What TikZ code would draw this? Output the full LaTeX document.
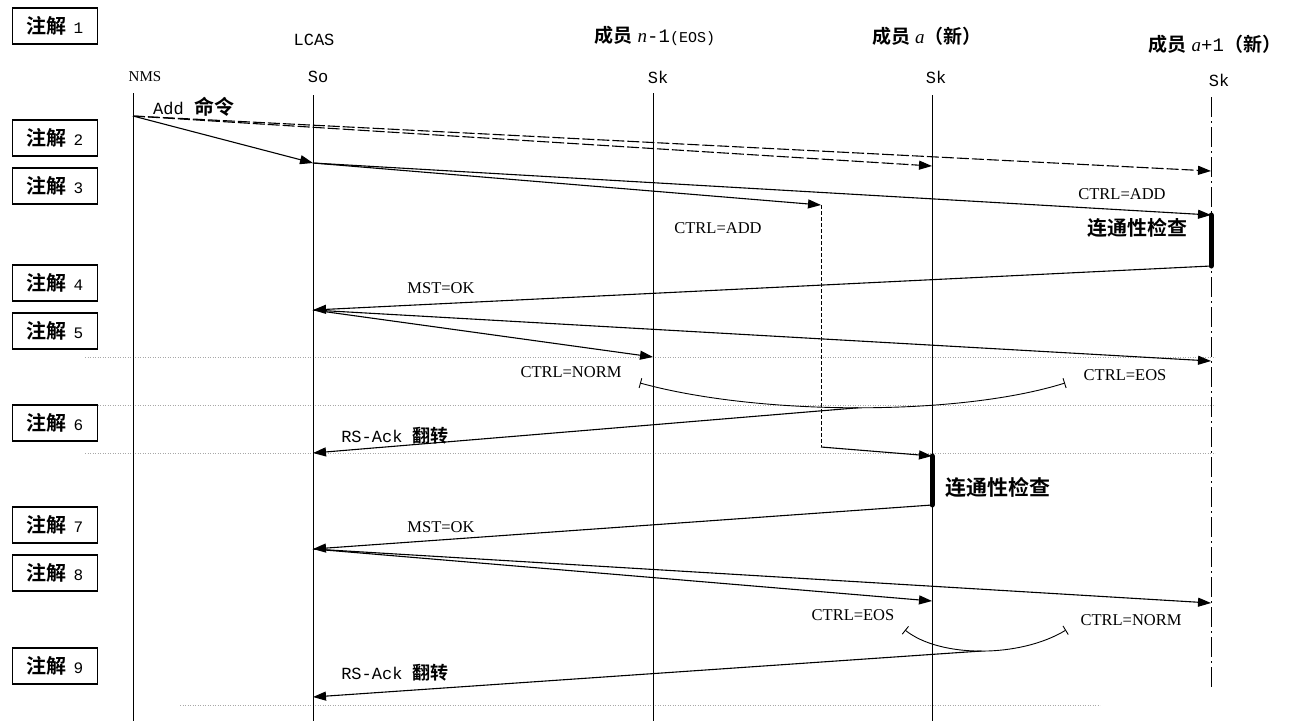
\documentclass[tikz,border=0pt]{standalone}
\usepackage{fontspec}
\setmainfont{Liberation Serif}
\setmonofont{Liberation Mono}
\newfontfamily\cjk{Noto Sans CJK SC Bold}
\usetikzlibrary{arrows.meta}
\definecolor{scanfaint}{HTML}{A8A8A8}

\tikzset{
  msg/.style={line width=1.1pt, -{Triangle[length=13pt,width=9pt]}},
  cmd/.style={msg, dash pattern=on 12pt off 3pt},
  life/.style={line width=1pt},
  newlife/.style={line width=0.9pt, dash pattern=on 20pt off 4pt on 2pt off 4pt},
  delay/.style={line width=0.9pt, dash pattern=on 4pt off 2pt},
  checkbar/.style={line width=5pt, line cap=round},
  notebox/.style={draw, line width=1.1pt, minimum width=85pt, minimum height=36pt, inner sep=0pt},
  ctrl/.style={font=\fontsize{16.5}{16.5}\selectfont, inner sep=1pt},
  mono/.style={font=\ttfamily\fontsize{17}{17}\selectfont, inner sep=1pt},
  head/.style={font=\fontsize{19}{19}\selectfont, inner sep=1pt},
  checklbl/.style={font=\cjk\fontsize{20}{20}\selectfont, inner sep=1pt},
  brace/.style={line width=0.9pt, {Bar[width=10pt]}-{Bar[width=10pt]}},
  faint/.style={scanfaint, line width=0.5pt, dotted},
}
\newcommand{\zj}[1]{{\cjk\fontsize{20}{20}\selectfont 注解}\hspace{7pt}{\ttfamily\fontsize{16}{16}\selectfont #1}}
\newcommand{\cn}[1]{{\cjk #1}}

\begin{document}
\begin{tikzpicture}[x=1pt, y=-1pt]
  \fill[white] (0,0) rectangle (1293,721);
  \useasboundingbox (0,0) rectangle (1293,721);

  % faint rules left by the scan
  \foreach \y in {357,405,453}
    \draw[faint] (85,\y) -- (1215,\y);
  \draw[faint] (180,705) -- (1100,705);

  % annotation boxes
  \foreach \i/\y in {1/26, 2/138, 3/186, 4/283, 5/331, 6/423, 7/525, 8/573, 9/666}
    \node[notebox] (note\i) at (55,\y) {\zj{\i}};

  % heads
  \node[mono] (lcas) at (314,40) {LCAS};
  \node[head] (memn) at (655,36) {\cn{成员} \textit{n}\texttt{-1}{\ttfamily\fontsize{15}{15}\selectfont(EOS)}};
  \node[head] (mema) at (927,36) {\cn{成员} \textit{a}\cn{（新）}};
  \node[head] (memb) at (1215,44) {\cn{成员} \textit{a}\texttt{+1}\cn{（新）}};
  \node[ctrl, font=\fontsize{15}{15}\selectfont] (nms) at (145,77) {NMS};
  \node[mono] (so) at (318,77) {So};
  \node[mono] (skn) at (658,77) {Sk};
  \node[mono] (ska) at (936,77) {Sk};
  \node[mono] (skb) at (1219,80) {Sk};

  % lifelines
  \coordinate (nmsT) at (133,93);  \coordinate (nmsB) at (133,721);
  \coordinate (soT) at (313,95);   \coordinate (soB) at (313,721);
  \coordinate (sknT) at (653,93);  \coordinate (sknB) at (653,721);
  \coordinate (skaT) at (932,95);  \coordinate (skaB) at (932,721);
  \coordinate (skbT) at (1211,97); \coordinate (skbB) at (1211,690);
  \draw[life] (nmsT) -- (nmsB);
  \draw[life] (soT) -- (soB);
  \draw[life] (sknT) -- (sknB);
  \draw[life] (skaT) -- (skaB);
  \draw[newlife] (skbT) -- (skbB);

  % events
  \coordinate (nms1) at (133,116);
  \coordinate (so1) at (313,163);
  \coordinate (ska1) at (932,166);
  \coordinate (skb1) at (1211,171);
  \coordinate (dl1) at (821,205);
  \coordinate (dl2) at (821,447);
  \coordinate (skb2) at (1211,215);
  \coordinate (skb3) at (1211,266);
  \coordinate (so2) at (313,310);
  \coordinate (skn2) at (653,357);
  \coordinate (skb4) at (1211,361);
  \coordinate (so3) at (313,453);
  \coordinate (ska2) at (932,456);
  \coordinate (ska3) at (932,505);
  \coordinate (so4) at (313,549);
  \coordinate (ska4) at (932,601);
  \coordinate (skb5) at (1211,603);
  \coordinate (so5) at (313,697);

  % add command
  \draw[cmd] (nms1) -- (ska1);
  \draw[cmd] (nms1) -- (skb1);
  \draw[msg] (nms1) -- (so1);
  \node[mono, anchor=west] (addcmd) at (152,107) {Add \cn{\fontsize{20}{20}\selectfont 命令}};

  % CTRL=ADD
  \draw[msg] (so1) -- (skb2);
  \draw[msg] (so1) -- (dl1);
  \draw[delay] (dl1) -- (dl2);
  \node[ctrl] (addb) at (1122,194) {CTRL=ADD};
  \node[ctrl] (adda) at (718,228) {CTRL=ADD};
  \draw[checkbar] (skb2) -- (skb3);
  \node[checklbl] (chkb) at (1137,228) {连通性检查};

  % MST=OK
  \draw[msg] (skb3) -- (so2);
  \node[ctrl] (mst1) at (441,288) {MST=OK};

  % norm / eos
  \draw[msg] (so2) -- (skn2);
  \draw[msg] (so2) -- (skb4);
  \node[ctrl] (norm1) at (571,372) {CTRL=NORM};
  \node[ctrl] (eos1) at (1125,375) {CTRL=EOS};
  \draw[brace] (640,383) .. controls (760,416) and (960,416) .. (1065,383)
    coordinate[pos=0.5] (rs1);

  % RS-Ack
  \draw[msg] (rs1) -- (so3);
  \node[mono] (ack1) at (395,436) {RS-Ack \cn{\fontsize{18}{18}\selectfont 翻转}};

  % member a
  \draw[msg] (dl2) -- (ska2);
  \draw[checkbar] (ska2) -- (ska3);
  \node[checklbl, anchor=west, font=\cjk\fontsize{21}{21}\selectfont] (chka) at (944,487) {连通性检查};
  \draw[msg] (ska3) -- (so4);
  \node[ctrl] (mst2) at (441,527) {MST=OK};

  \draw[msg] (so4) -- (ska4);
  \draw[msg] (so4) -- (skb5);
  \node[ctrl] (eos2) at (853,615) {CTRL=EOS};
  \node[ctrl] (norm2) at (1131,620) {CTRL=NORM};
  \draw[brace] (905,630) .. controls (940,658) and (1020,658) .. (1066,630)
    coordinate[pos=0.5] (rs2);

  \draw[msg] (rs2) -- (so5);
  \node[mono] (ack2) at (395,673) {RS-Ack \cn{\fontsize{18}{18}\selectfont 翻转}};
\end{tikzpicture}
\end{document}
